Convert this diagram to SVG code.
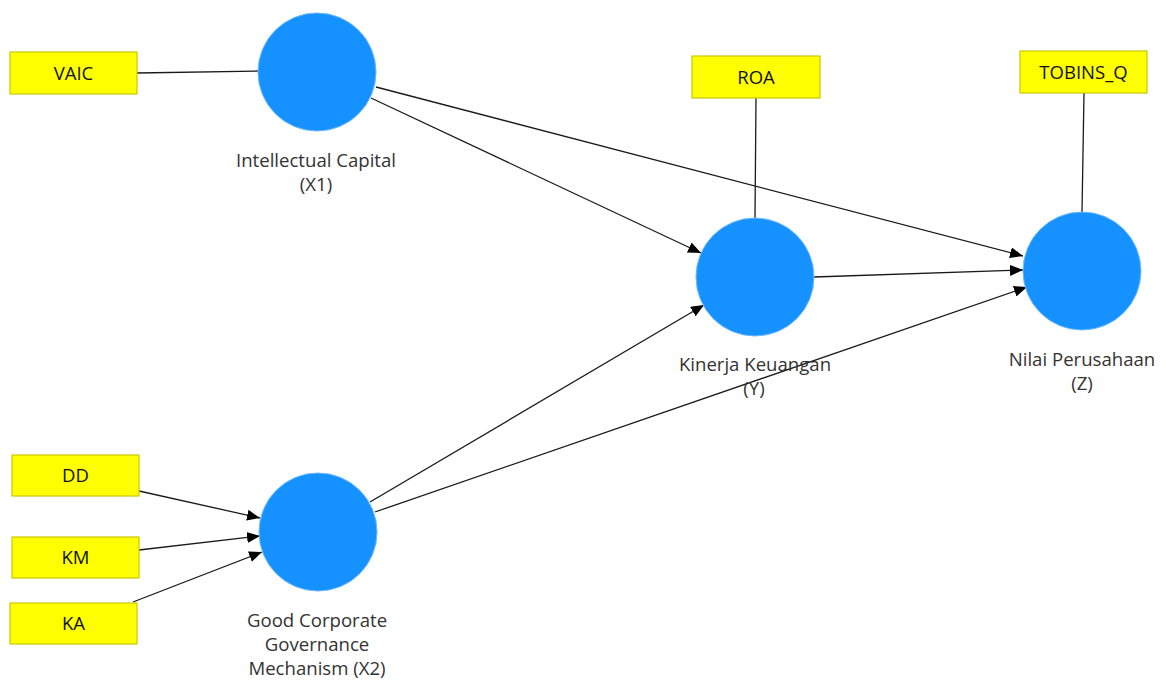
<svg xmlns="http://www.w3.org/2000/svg" width="1166" height="682" viewBox="0 0 1166 682">
<style>
.lv{fill:#1592ff;stroke:#6cb8ff;stroke-width:1}
.ind{fill:#ffff00;stroke:#c9c900;stroke-width:1.2}
.it{font-family:"Open Sans","Noto Sans",sans-serif;font-size:18.5px;fill:#111;text-anchor:middle}
.lt{font-family:"Open Sans","Noto Sans",sans-serif;font-size:18.6px;fill:#333;text-anchor:middle}
.c{stroke:#1a1a1a;stroke-width:1.3;fill:none}
.a{marker-end:url(#ah)}
</style>
<defs>
<marker id="ah" markerUnits="userSpaceOnUse" markerWidth="13" markerHeight="11" refX="13" refY="5.5" orient="auto">
<path d="M0,0 L13,5.5 L0,11 z" fill="#000"/>
</marker>
</defs>
<rect width="1166" height="682" fill="#fff"/>
<g id="connectors">
<line class="c" x1="137" y1="73" x2="258" y2="71"/>
<line class="c" x1="756" y1="98" x2="755" y2="218"/>
<line class="c" x1="1084" y1="93" x2="1082" y2="212"/>
<line class="c a" x1="371" y1="98" x2="701" y2="253"/>
<line class="c a" x1="376" y1="87" x2="1023" y2="256"/>
<line class="c a" x1="814" y1="277" x2="1023" y2="270"/>
<line class="c a" x1="370" y1="502" x2="704" y2="305"/>
<line class="c a" x1="375" y1="512" x2="1027" y2="287"/>
<line class="c a" x1="139" y1="491" x2="260" y2="518"/>
<line class="c a" x1="139" y1="550" x2="260" y2="536"/>
<line class="c a" x1="133" y1="602" x2="262" y2="552"/>
</g>
<g id="VAIC"><rect class="ind" x="10" y="52" width="127" height="42"/><text class="it" x="73.5" y="80">VAIC</text></g>
<g id="ROA"><rect class="ind" x="692" y="56" width="128" height="42"/><text class="it" x="756" y="84">ROA</text></g>
<g id="TOBINS_Q"><rect class="ind" x="1020" y="51" width="127" height="42"/><text class="it" x="1083.5" y="79">TOBINS_Q</text></g>
<g id="DD"><rect class="ind" x="12" y="455" width="127" height="41"/><text class="it" x="75.5" y="482">DD</text></g>
<g id="KM"><rect class="ind" x="12" y="537" width="127" height="41"/><text class="it" x="75.5" y="564">KM</text></g>
<g id="KA"><rect class="ind" x="10" y="603" width="127" height="41"/><text class="it" x="73.5" y="630">KA</text></g>
<g id="X1"><circle class="lv" cx="317" cy="72" r="59"/><text class="lt" x="316" y="167">Intellectual Capital</text><text class="lt" x="316" y="191">(X1)</text></g>
<g id="Y"><circle class="lv" cx="755" cy="277" r="59"/><text class="lt" x="755" y="371">Kinerja Keuangan</text><text class="lt" x="754" y="395">(Y)</text></g>
<g id="Z"><circle class="lv" cx="1082" cy="271" r="59"/><text class="lt" x="1082" y="366">Nilai Perusahaan</text><text class="lt" x="1082" y="390">(Z)</text></g>
<g id="X2"><circle class="lv" cx="318" cy="532" r="59"/><text class="lt" x="317" y="627">Good Corporate</text><text class="lt" x="317" y="651">Governance</text><text class="lt" x="317" y="675">Mechanism (X2)</text></g>
</svg>
